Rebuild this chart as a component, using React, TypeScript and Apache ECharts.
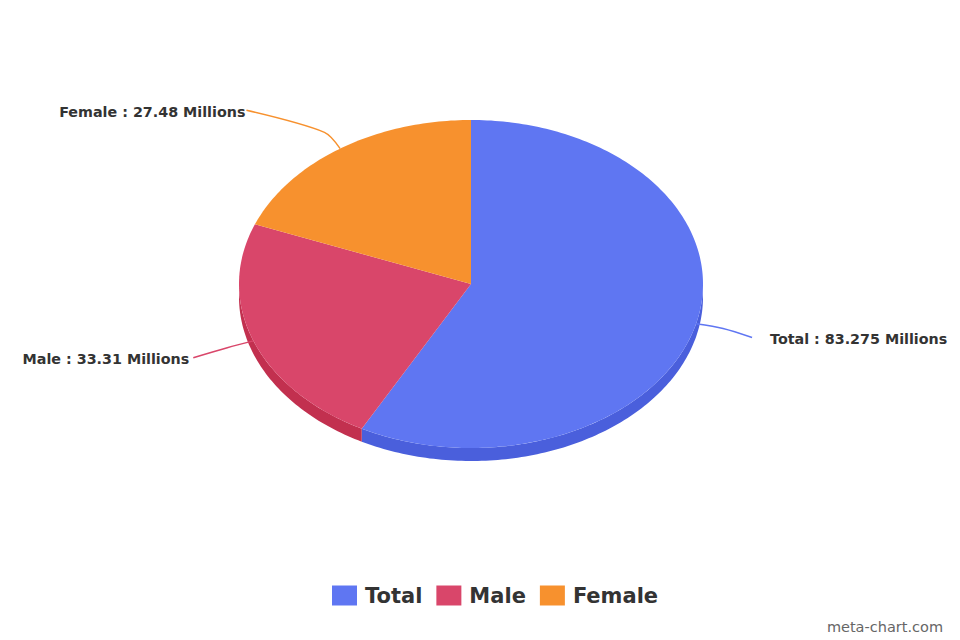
import React, { useEffect, useRef } from "react";
import * as echarts from "echarts";

const NAMES = ["Total", "Male", "Female"];
const VALUES = [83.275, 33.31, 27.48];
const UNIT = "Millions";
const COLORS = ["#5f76f2", "#d9466a", "#f7912e"];
const SIDE_COLORS = ["#4a5fdc", "#c2304f", "#dd7a1c"];

// layout constants (not data)
const CX = 471, CY = 284, RX = 232, RY = 164, DEPTH = 13;
const LABEL_LAYOUT = [
  { dx: 29, dy: 9, gap: 18, align: "left" },
  { dx: -34, dy: 10, gap: -4, align: "right" },
  { dx: -78, dy: -22, gap: -1, align: "right" },
];

const LABEL_FONT = 'bold 14.3px "DejaVu Sans", sans-serif';

function pt(deg: number, s = 1, dy = 0): number[] {
  const r = (deg * Math.PI) / 180;
  return [CX + RX * s * Math.cos(r), CY + dy + RY * s * Math.sin(r)];
}

function arcPoints(a1: number, a2: number, dy = 0): number[][] {
  const pts: number[][] = [];
  const n = Math.max(2, Math.ceil(Math.abs(a2 - a1)));
  for (let i = 0; i <= n; i++) pts.push(pt(a1 + ((a2 - a1) * i) / n, 1, dy));
  return pts;
}

export default function App() {
  const ref = useRef<HTMLDivElement>(null);
  useEffect(() => {
    document.body.style.margin = "0";
    if (!ref.current) return;
    const chart = echarts.init(ref.current, undefined, { renderer: "svg" });
    const total = VALUES.reduce((a, b) => a + b, 0);

    const series = NAMES.map((name, idx) => ({
      type: "custom",
      name,
      coordinateSystem: "none",
      itemStyle: { color: COLORS[idx] },
      data: [{ name, value: VALUES[idx] }],
      renderItem: (params: any, api: any) => {
        const before = VALUES.slice(0, idx).reduce((a, b) => a + b, 0);
        const v = api.value(0);
        const a1 = -90 + (before / total) * 360;
        const a2 = a1 + (v / total) * 360;
        const children: any[] = [];
        const s1 = Math.max(a1, 0);
        const s2 = Math.min(a2, 180);
        if (s2 > s1) {
          const top = arcPoints(s1, s2, 0);
          const bot = arcPoints(s2, s1, DEPTH);
          children.push({
            type: "polygon",
            shape: { points: top.concat(bot) },
            style: { fill: SIDE_COLORS[idx] },
          });
        }
        children.push({
          type: "polygon",
          shape: { points: [[CX, CY]].concat(arcPoints(a1, a2, 0)) },
          style: { fill: COLORS[idx] },
        });
        const mid = (a1 + a2) / 2;
        const p0 = pt(mid, 1);
        const p1 = pt(mid, 1.12);
        const L = LABEL_LAYOUT[idx];
        const end = [p1[0] + L.dx, p1[1] + L.dy];
        children.push({
          type: "polyline",
          shape: { points: [p0, p1, end], smooth: 0.3 },
          style: { stroke: COLORS[idx], lineWidth: 1.5, fill: "none" },
        });
        children.push({
          type: "text",
          style: {
            text: `${NAMES[idx]} : ${v} ${UNIT}`,
            x: end[0] + L.gap,
            y: end[1] + 1.5,
            fill: "#333333",
            font: LABEL_FONT,
            align: L.align,
            verticalAlign: "middle",
          },
        });
        return { type: "group", children };
      },
    }));

    chart.setOption({
      animation: false,
      backgroundColor: "#ffffff",
      legend: {
        data: NAMES,
        top: 580,
        left: 327,
        icon: "rect",
        itemWidth: 25,
        itemHeight: 20,
        itemGap: 14,
        selectedMode: false,
        textStyle: {
          fontFamily: '"DejaVu Sans", sans-serif',
          fontWeight: "bold",
          fontSize: 21,
          color: "#333333",
          padding: [0, 0, 0, 3],
        },
      },
      graphic: [
        {
          type: "text",
          right: 17,
          top: 619,
          style: {
            text: "meta-chart.com",
            font: '14.5px "DejaVu Sans", sans-serif',
            fill: "#666666",
          },
        },
      ],
      series,
    } as any);
    return () => chart.dispose();
  }, []);
  return <div ref={ref} style={{ width: 960, height: 640 }} />;
}
